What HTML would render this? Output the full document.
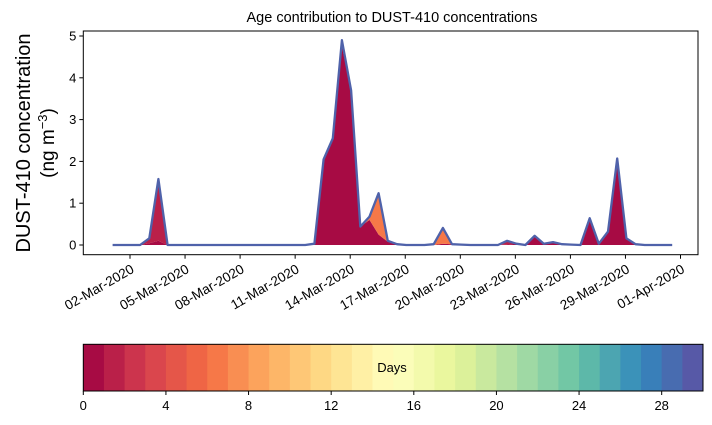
<!DOCTYPE html>
<html><head><meta charset="utf-8"><style>
body{margin:0;background:#fff;}
svg{display:block;font-family:"Liberation Sans","DejaVu Sans",sans-serif;}
</style></head><body>
<svg id="chart" width="712" height="425" viewBox="0 0 712 425">
<text x="392" y="22" text-anchor="middle" font-size="14.5" fill="#000">Age contribution to DUST-410 concentrations</text>
<text transform="translate(30,143) rotate(-90)" text-anchor="middle" font-size="20" fill="#000">DUST-410 concentration</text>
<text transform="translate(54,143) rotate(-90)" text-anchor="middle" font-size="19" fill="#000">(ng m<tspan font-size="13" dy="-7">−3</tspan><tspan dy="7">)</tspan></text>
<g id="marks"></g>
<g id="axes"></g>
<g id="cbar"></g>
</svg>
<script>
const ages=[0,1,6];
const age0=[0,0,0,0,0.04,0.1,0,0,0,0,0,0,0,0,0,0,0,0,0,0,0,0,0.03,2.05,2.55,4.75,3.7,0.44,0.6,0.25,0.08,0.02,0,0,0,0,0.03,0.02,0,0,0,0,0,0.01,0.03,0,0.22,0.03,0.07,0.02,0.01,0,0.64,0.03,0.32,1.9,0.16,0.02,0,0,0,0];
const age1=[0,0,0,0,0.12,1.48,0,0,0,0,0,0,0,0,0,0,0,0,0,0,0,0,0,0,0,0.15,0,0,0,0,0,0,0,0,0,0,0,0,0,0,0,0,0,0.09,0,0,0,0,0,0,0,0,0,0,0,0.17,0,0,0,0,0,0];
const age6=[0,0,0,0,0,0,0,0,0,0,0,0,0,0,0,0,0,0,0,0,0,0,0,0,0,0,0,0,0.08,0.99,0.02,0,0,0,0,0.02,0.38,0,0.01,0,0,0,0,0,0,0,0,0,0,0,0,0,0,0,0,0,0,0,0,0,0,0];
const yTicks=[0,1,2,3,4,5];
const xTickLabels=["02-Mar-2020","05-Mar-2020","08-Mar-2020","11-Mar-2020","14-Mar-2020","17-Mar-2020","20-Mar-2020","23-Mar-2020","26-Mar-2020","29-Mar-2020","01-Apr-2020"];
const xTickDays=[1,4,7,10,13,16,19,22,25,28,31];
const cbTicks=[0,4,8,12,16,20,24,28];
const startDay=0.05, stepDay=0.5;

const NS="http://www.w3.org/2000/svg";
const L=83.3,R=698,T=31,B=254.7;
const xS=d=>130+(d-1)*18.35;
const yS=v=>245-v*41.8;
function el(t,a,p){const e=document.createElementNS(NS,t);for(const k in a)e.setAttribute(k,a[k]);p.appendChild(e);return e;}
const spec=["#9e0142","#d53e4f","#f46d43","#fdae61","#fee08b","#ffffbf","#e6f598","#abdda4","#66c2a5","#3288bd","#5e4fa2"];
function hex(h){return [1,3,5].map(i=>parseInt(h.substr(i,2),16));}
function cmap(t){const p=t*10,i=Math.min(9,Math.floor(p)),f=p-i;const a=hex(spec[i]),b=hex(spec[i+1]);return "rgb("+a.map((v,k)=>Math.round(v+(b[k]-v)*f)).join(",")+")";}
const ageCol=a=>cmap((a+0.5)/30);

const marks=document.getElementById('marks');
const series=[age0,age1,age6];
let base=age0.map(()=>0);
series.forEach((s,si)=>{
  const top=s.map((v,i)=>base[i]+v);
  let d="";
  top.forEach((v,i)=>{d+=(i?"L":"M")+xS(startDay+i*stepDay).toFixed(1)+","+yS(v).toFixed(1);});
  for(let i=base.length-1;i>=0;i--)d+="L"+xS(startDay+i*stepDay).toFixed(1)+","+yS(base[i]).toFixed(1);
  const p=el('path',{d:d+"Z",fill:ageCol(ages[si]),stroke:"none"},marks);
  
  
  base=top;
});
let ld="";
base.forEach((v,i)=>{ld+=(i?"L":"M")+xS(startDay+i*stepDay).toFixed(1)+","+yS(v).toFixed(1);});
const tl=el('path',{d:ld,fill:"none",stroke:"#4f62aa","stroke-width":2.3,"stroke-linejoin":"round"},marks);



const ax=document.getElementById('axes');
const fr=el('rect',{x:L,y:T,width:R-L,height:B-T,fill:"none",stroke:"#000","stroke-width":1},ax);


yTicks.forEach(v=>{
  el('line',{x1:L-4,x2:L,y1:yS(v),y2:yS(v),stroke:"#000"},ax);
  const t=el('text',{x:L-7,y:yS(v)+4.5,"text-anchor":"end","font-size":13},ax);t.textContent=v;
  
  
});
xTickDays.forEach((d,i)=>{
  const x=xS(d);
  el('line',{x1:x,x2:x,y1:B,y2:B+4,stroke:"#000"},ax);
  const t=el('text',{transform:"translate("+(x+5)+","+(B+17)+") rotate(-30)","text-anchor":"end","font-size":13.5},ax);
  t.textContent=xTickLabels[i];
  
  
});

const cb=document.getElementById('cbar');
const cx0=83.3,cx1=703,cy0=344.3,cy1=391;
const cw=(cx1-cx0)/30;
for(let k=0;k<30;k++){
  const r=el('rect',{x:cx0+k*cw,y:cy0,width:cw+0.5,height:cy1-cy0,fill:cmap((k+0.5)/30)},cb);
  
  
}
el('rect',{x:cx0,y:cy0,width:cx1-cx0,height:cy1-cy0,fill:"none",stroke:"#000"},cb);
cbTicks.forEach(v=>{
  const x=cx0+v*cw;
  el('line',{x1:x,x2:x,y1:cy1,y2:cy1+4,stroke:"#000"},cb);
  const t=el('text',{x:x,y:cy1+19,"text-anchor":"middle","font-size":13},cb);t.textContent=v;
  
  
});
const dl=el('text',{x:392,y:372,"text-anchor":"middle","font-size":13},cb);dl.textContent="Days";


</script>
</body></html>
